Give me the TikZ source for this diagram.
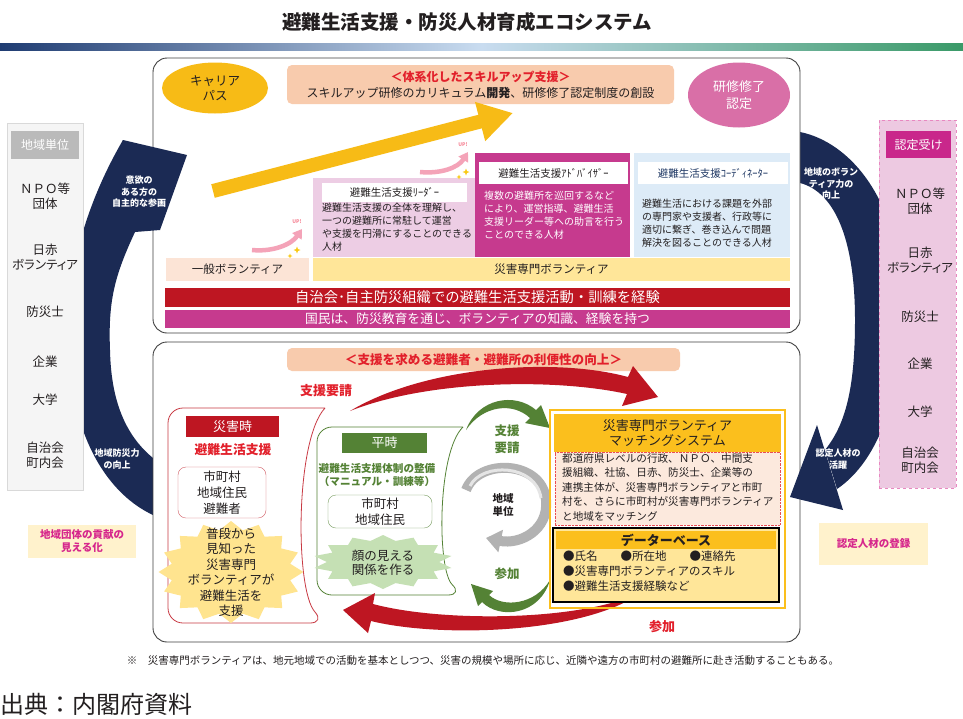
\documentclass[tikz,border=0pt]{standalone}
\usepackage{fontspec}
\setmainfont{Noto Sans CJK JP}
\newfontfamily\pfont{Noto Sans CJK JP}[RawFeature=+palt]
\usetikzlibrary{positioning,arrows.meta,shapes.geometric}
\newcommand\jfs[2]{\fontsize{#1}{#2}\selectfont}
\definecolor{navyC}{HTML}{1B2A54}
\definecolor{goldC}{HTML}{F7BB16}
\definecolor{goldH}{HTML}{FBBF1D}
\definecolor{peachC}{HTML}{F8CBAD}
\definecolor{roseC}{HTML}{D96FA7}
\definecolor{paleOr}{HTML}{FCE4D6}
\definecolor{paleYe}{HTML}{FFE699}
\definecolor{redC}{HTML}{BE1622}
\definecolor{redT}{HTML}{E2202B}
\definecolor{magC}{HTML}{C63A8E}
\definecolor{lilacC}{HTML}{EDCDE4}
\definecolor{iceC}{HTML}{DDEBF7}
\definecolor{coordT}{HTML}{1F3864}
\definecolor{greenC}{HTML}{548235}
\definecolor{mintC}{HTML}{C5E0B4}
\definecolor{starY}{HTML}{FFE48F}
\definecolor{labY}{HTML}{FFF2CC}
\definecolor{labT}{HTML}{D6268C}
\definecolor{pinkCol}{HTML}{EDC9E1}
\definecolor{pinkHd}{HTML}{C9278B}
\definecolor{upPink}{HTML}{F4A3B8}
\definecolor{dotFill}{HTML}{FCE9DD}
\definecolor{inkC}{HTML}{231F20}
\definecolor{barL}{HTML}{1F3C72}
\definecolor{barM}{HTML}{C9DCF0}
\definecolor{barR}{HTML}{3A9A68}

\begin{document}
\begin{tikzpicture}[x=1pt,y=-1pt,
  every node/.append style={text=inkC},
  blk/.style={anchor=north west,inner sep=0pt,outer sep=0pt},
  panel/.style={blk,draw=black!75,line width=0.9pt,rounded corners=14pt,fill=white},
  hdr/.style={blk,text=white,font=\jfs{13}{15}},
  ttl/.style={blk,fill=white,font=\jfs{10.5}{12}},
  body/.style={anchor=north west,inner sep=0pt,align=left,font=\jfs{10}{12.8}},
  item/.style={align=center,font=\pfont\jfs{12.5}{15}},
  bandtxt/.style={align=center,text=white,font=\bfseries\jfs{9}{11.5}},
  lab/.style={blk,fill=labY,text=labT,align=center,font=\bfseries\jfs{10.5}{13}},
  redtxt/.style={text=redT,font=\bfseries\jfs{12.6}{14}},
  grntxt/.style={text=greenC,align=center,font=\bfseries\jfs{12.5}{17}},
  bigarrow/.style={goldC,line width=14pt,-{Triangle[width=38pt,length=34pt]}},
  uparrow/.style={upPink,line width=4.5pt,-{Triangle[width=11pt,length=9pt]}},
  sparkle/.style={star,star points=4,star point ratio=2.6,fill=goldC!80!yellow,minimum size=7pt,inner sep=0pt},
]
\useasboundingbox (0,0) rectangle (963,718);
\fill[white] (0,0) rectangle (963,718);
% ---------- title ----------
\node[font=\bfseries\jfs{19.5}{21}] (title) at (467,22) {避難生活支援・防災人材育成エコシステム};
\fill[left color=barL,right color=barR,middle color=barM] (0,43) rectangle (963,50);
% ---------- navy cycle bands (bodies) ----------
\fill[navyC] (135,232) .. controls (115,275) and (108,300) .. (110,350)
  .. controls (111,400) and (125,435) .. (153,458) -- (175,470) -- (175,528) -- (153,515)
  .. controls (110,495) and (70,440) .. (68,340) .. controls (66,270) and (88,200) .. (123,140) -- cycle;
\fill[navyC] (780,132) -- (800,132) .. controls (850,142) and (900,200) .. (902,300)
  .. controls (904,390) and (880,460) .. (837,489) -- (825,450)
  .. controls (845,425) and (855,390) .. (855,320) .. controls (855,240) and (835,192) .. (800,183) -- (780,183) -- cycle;
% ---------- panels ----------
\node[panel,minimum width=647pt,minimum height=275pt] (upper) at (153,58) {};
\node[panel,minimum width=647pt,minimum height=300pt] (lower) at (153,342) {};
% arrow heads over the panels
\fill[navyC] (123,140) -- (187,155) -- (160,230) -- (135,232) -- (115,235) -- (108,180) -- cycle;
\fill[navyC] (817,425) -- (790,497) -- (843,510) -- cycle;
\node[bandtxt] (bandA) at (139,192) {意欲の\\ある方の\\自主的な参画};
\node[bandtxt] (bandB) at (117,459) {地域防災力\\の向上};
\node[bandtxt] (bandC) at (831,184) {地域のボラン\\ティア力の\\向上};
\node[bandtxt] (bandD) at (838,459) {認定人材の\\活躍};
% ---------- left column ----------
\node[blk,draw=black!15,fill=black!4,minimum width=76pt,minimum height=367pt] (lcol) at (7,123) {};
\node[hdr,fill=black!27,minimum width=68pt,minimum height=28pt,font=\jfs{12}{14}] (lhead) at (11,131) {地域単位};
\node[item] (lnpo) at (45,196) {{\rmfamily ＮＰＯ等}\\団体};
\node[item] (lred) at (45,257) {日赤\\ボランティア};
\node[item] (lbou) at (45,312) {防災士};
\node[item] (lkig) at (45,362) {企業};
\node[item] (ldai) at (45,400) {大学};
\node[item] (ljic) at (45,455) {自治会\\町内会};
\node[lab,minimum width=108pt,minimum height=33pt] (llab) at (28,525) {地域団体の貢献の\\見える化};
% ---------- right column ----------
\node[blk,draw=labT!55,dashed,fill=pinkCol,minimum width=77pt,minimum height=368pt] (rcol) at (879,120) {};
\node[hdr,fill=pinkHd,minimum width=65pt,minimum height=27pt,font=\jfs{12}{14}] (rhead) at (886,131) {認定受け};
\node[item] (rnpo) at (920,201) {{\rmfamily ＮＰＯ等}\\団体};
\node[item] (rred) at (920,260) {日赤\\ボランティア};
\node[item] (rbou) at (920,317) {防災士};
\node[item] (rkig) at (920,364) {企業};
\node[item] (rdai) at (920,412) {大学};
\node[item] (rjic) at (920,460) {自治会\\町内会};
\node[lab,minimum width=109pt,minimum height=42pt] (rlab) at (819,523) {認定人材の登録};
% ---------- upper panel: skill-up ----------
\node[ellipse,fill=goldC,minimum width=106pt,minimum height=51pt,align=center,font=\jfs{12.5}{15}] (career) at (215,88) {キャリア\\パス};
\node[blk,fill=peachC,rounded corners=5pt,minimum width=387pt,minimum height=39pt] (skill) at (287,65) {};
\node[align=center,font=\jfs{12}{16}] (skilltx) at (skill.center)
  {{\color{redT}\bfseries ＜体系化したスキルアップ支援＞}\\スキルアップ研修のカリキュラム\textbf{開発}、研修修了認定制度の創設};
\node[ellipse,fill=roseC,minimum width=102pt,minimum height=65pt,align=center,text=white,font=\jfs{13}{17}] (cert) at (739,95) {研修修了\\認定};
\coordinate (upA) at (213,191);
\coordinate (upB) at (513,113);
\draw[bigarrow] (upA) -- (upB);
% ---------- upper panel: roles ----------
\node[blk,fill=lilacC,minimum width=162pt,minimum height=79pt] (leader) at (313,178) {};
\node[ttl,minimum width=145pt,minimum height=19pt] (leadt) at (322,183) {避難生活支援ﾘｰﾀﾞｰ};
\node[body] (leadb) at (322,203) {避難生活支援の全体を理解し、\\一つの避難所に常駐して運営\\や支援を円滑にすることのできる\\人材};
\node[blk,fill=magC,minimum width=155pt,minimum height=104pt] (advis) at (475,153) {};
\node[ttl,minimum width=149pt,minimum height=22pt] (advt) at (479,162) {避難生活支援ｱﾄﾞﾊﾞｲｻﾞｰ};
\node[body,text=white] (advb) at (484,191) {複数の避難所を巡回するなど\\により、運営指導、避難生活\\支援リーダー等への助言を行う\\ことのできる人材};
\node[blk,fill=iceC,minimum width=156pt,minimum height=104pt] (coord) at (634,153) {};
\node[ttl,minimum width=150pt,minimum height=22pt,text=coordT] (coordt) at (638,162) {避難生活支援ｺｰﾃﾞｨﾈｰﾀｰ};
\node[body] (coordb) at (642,199) {避難生活における課題を外部\\の専門家や支援者、行政等に\\適切に繋ぎ、巻き込んで問題\\解決を図ることのできる人材};
% UP! marks
\coordinate (upa1) at (252,250);
\coordinate (upa2) at (302,229);
\draw[uparrow] (upa1) .. controls (272,252) and (291,245) .. (upa2);
\node[text=upPink!80!red,font=\bfseries\jfs{5}{6}] (upt1) at (297,222) {UP!};
\node[sparkle] (spk1) at (297,250) {};
\node[sparkle,minimum size=5pt] (spk2) at (290,256) {};
\coordinate (upb1) at (420,172);
\coordinate (upb2) at (468,152);
\draw[uparrow] (upb1) .. controls (440,174) and (458,168) .. (upb2);
\node[text=upPink!80!red,font=\bfseries\jfs{5}{6}] (upt2) at (463,145) {UP!};
\node[sparkle] (spk3) at (466,172) {};
\node[sparkle,minimum size=5pt] (spk4) at (459,177) {};
% ---------- upper panel: bars ----------
\node[blk,fill=paleOr,minimum width=143pt,minimum height=23pt,font=\jfs{11.5}{13}] (gen) at (166,258) {一般ボランティア};
\node[blk,fill=paleYe,minimum width=477pt,minimum height=23pt,font=\jfs{11.5}{13}] (expert) at (313,258) {災害専門ボランティア};
\node[blk,fill=redC,text=white,minimum width=625pt,minimum height=19pt,font=\jfs{14.3}{15}] (jichi) at (165,288) {自治会･自主防災組織での避難生活支援活動・訓練を経験};
\node[blk,fill=magC,text=white,minimum width=625pt,minimum height=18pt,font=\jfs{12.8}{14}] (kokumin) at (165,310) {国民は、防災教育を通じ、ボランティアの知識、経験を持つ};
% ---------- lower panel ----------
\node[blk,fill=peachC,rounded corners=5pt,minimum width=393pt,minimum height=23pt,redtxt] (conv) at (287,348) {＜支援を求める避難者・避難所の利便性の向上＞};
% disaster time (red tube)
\draw[redC!85,line width=0.8pt,rounded corners=15pt] (325,408) -- (168,408) -- (168,623) -- (325,623)
  .. controls (295,590) and (295,440) .. (325,408);
\node[hdr,fill=redC,minimum width=93pt,minimum height=21pt] (saigai) at (186,416) {災害時};
\node[text=redT,font=\bfseries\jfs{12.8}{14}] (hinan) at (233,450) {避難生活支援};
\node[blk,draw=redC!70,rounded corners=8pt,minimum width=88pt,minimum height=51pt,align=center,font=\jfs{12.5}{16}] (redbox) at (178,467) {市町村\\地域住民\\避難者};
\begin{scope}[shift={(231,572)},xscale=1.42]
  \node[star,star points=16,star point ratio=1.2,fill=starY,minimum size=102pt,inner sep=0pt,transform shape] (burstA) {};
\end{scope}
\node[align=center,font=\jfs{12.5}{15.5}] (burstAt) at (231,572) {普段から\\見知った\\災害専門\\ボランティアが\\避難生活を\\支援};
% normal time (green tube)
\draw[greenC,line width=0.8pt,rounded corners=15pt] (463,427) -- (317,427) -- (317,595) -- (463,595)
  .. controls (437,570) and (437,452) .. (463,427);
\node[hdr,fill=greenC,minimum width=85pt,minimum height=20pt] (heiji) at (342,433) {平時};
\node[text=greenC,align=center,font=\bfseries\jfs{10.6}{13.5}] (seibi) at (377,475) {避難生活支援体制の整備\\（マニュアル・訓練等）};
\node[blk,draw=greenC!80,rounded corners=8pt,minimum width=104pt,minimum height=33pt,align=center,font=\jfs{12.5}{16.5}] (grnbox) at (328,495) {市町村\\地域住民};
\begin{scope}[shift={(383,562)},xscale=2.6]
  \node[star,star points=14,star point ratio=1.25,fill=mintC,minimum size=54pt,inner sep=0pt,transform shape] (burstB) {};
\end{scope}
\node[align=center,font=\jfs{12.5}{14.5}] (burstBt) at (383,563) {顔の見える\\関係を作る};
% red request / join loop (tapered arrows)
\coordinate (rqA) at (350,411);
\coordinate (rqB) at (658,397);
\fill[redC] (rqA) .. controls (425,366) and (555,357) .. (628,377) -- (633,366) -- (rqB) -- (622,406) -- (627,394)
  .. controls (555,378) and (428,380) .. (rqA) -- cycle;
\node[redtxt,font=\bfseries\jfs{13}{15}] (rqtx) at (326,391) {支援要請};
\coordinate (jnA) at (642,592);
\coordinate (jnB) at (343,610);
\fill[redC] (jnA) .. controls (580,622) and (440,622) .. (373,604) -- (375,593) -- (jnB) -- (368,633) -- (371,621)
  .. controls (440,638) and (585,634) .. (jnA) -- cycle;
\node[redtxt,font=\bfseries\jfs{13}{15}] (jntx) at (662,627) {参加};
% green request / join loop
\coordinate (gqA) at (466,430);
\coordinate (gqB) at (550,428);
\fill[greenC] (gqA) .. controls (478,398) and (515,392) .. (536,410) -- (541,405) -- (gqB) -- (525,423) -- (530,418)
  .. controls (513,402) and (483,405) .. (gqA) -- cycle;
\node[grntxt] (gqtx) at (507,439) {支援\\要請};
\coordinate (gjA) at (550,580);
\coordinate (gjB) at (471,584);
\fill[greenC] (gjA) .. controls (540,615) and (500,620) .. (482,602) -- (478,606) -- (gjB) -- (493,591) -- (489,595)
  .. controls (503,608) and (535,605) .. (gjA) -- cycle;
\node[grntxt] (gjtx) at (507,574) {参加};
% local unit loop
\coordinate (luA) at (466,490);
\coordinate (luB) at (486,538);
\draw[black!30,line width=10pt,-{Triangle[width=22pt,length=15pt]}] (luA) .. controls (478,458) and (542,460) .. (546,500)
  .. controls (549,530) and (520,545) .. (luB);
\draw[black!10,line width=3pt] (470,486) .. controls (482,462) and (536,464) .. (541,498);
\node[align=center,font=\bfseries\jfs{10.5}{13}] (lunit) at (503,505) {地域\\単位};
% ---------- matching system ----------
\node[blk,draw=goldH,line width=1.4pt,minimum width=235pt,minimum height=198pt] (msys) at (550,410) {};
\node[blk,fill=goldH,minimum width=227pt,minimum height=38pt,align=center,font=\jfs{13}{15}] (mhead) at (554,414) {災害専門ボランティア\\マッチングシステム};
\node[blk,fill=dotFill,draw=redT!80,densely dotted,minimum width=225pt,minimum height=73pt] (mdesc) at (555,452) {};
\node[body,font=\jfs{10.6}{14.6}] (mdesct) at (562,453) {都道府県レベルの行政、ＮＰＯ、中間支\\援組織、社協、日赤、防災士、企業等の\\連携主体が、災害専門ボランティアと市町\\村を、さらに市町村が災害専門ボランティア\\と地域をマッチング};
\node[blk,draw=black,line width=2pt,fill=paleYe,minimum width=226pt,minimum height=74pt] (db) at (553,528) {};
\node[blk,fill=goldH,minimum width=220pt,minimum height=18pt,font=\bfseries\jfs{13}{14}] (dbhead) at (556,531) {データーベース};
\node[body,font=\jfs{11.5}{15}] (dbitems) at (563,551) {●氏名　　●所在地　　●連絡先\\●災害専門ボランティアのスキル\\●避難生活支援経験など};
% ---------- notes ----------
\node[font=\jfs{10.5}{12}] (note) at (483,660) {※　災害専門ボランティアは、地元地域での活動を基本としつつ、災害の規模や場所に応じ、近隣や遠方の市町村の避難所に赴き活動することもある。};
\node[anchor=west,inner sep=0pt,font=\jfs{24}{26}] (source) at (0,704) {出典：内閣府資料};
\end{tikzpicture}
\end{document}
